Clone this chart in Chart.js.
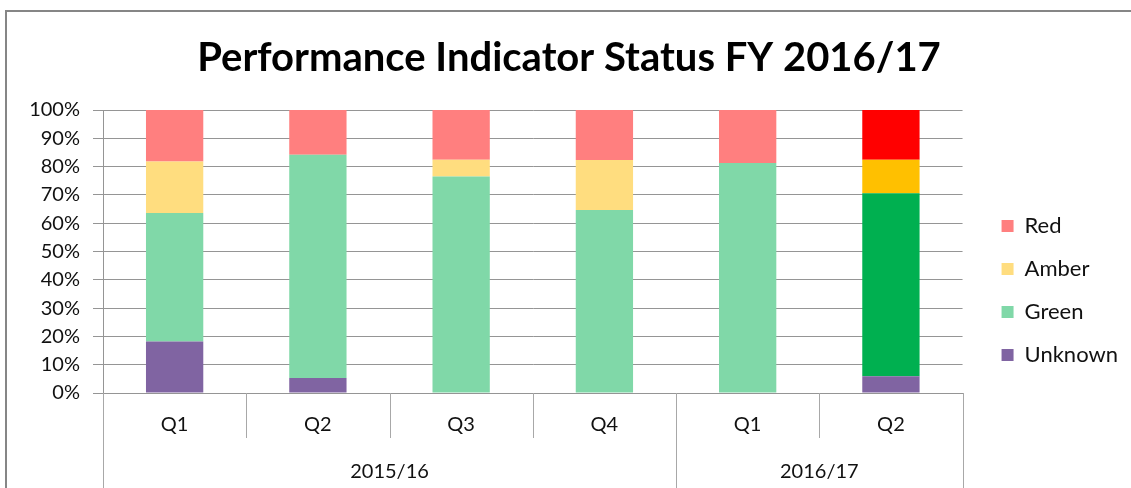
<!DOCTYPE html>
<html>
<head>
<meta charset="utf-8">
<script src="https://cdn.jsdelivr.net/npm/chart.js@4.4.0/dist/chart.umd.min.js"></script>
<style>
  html, body { margin: 0; padding: 0; background: #fff; }
  #wrap { width: 1131px; height: 488px; position: relative; }
</style>
</head>
<body>
<div id="wrap"><canvas id="chart" width="1131" height="488"></canvas></div>
<script>
// quarters on the axis, and the financial years they are grouped under
const quarters = ["Q1", "Q2", "Q3", "Q4", "Q1", "Q2"];
const years = ["2015/16", "2016/17"];
const quartersPerYear = [4, 2];

// share of indicators in each status (%)
const unknown = [18.2, 5.3, 0, 0, 0, 5.9];
const green = [45.4, 78.9, 76.5, 64.7, 81.3, 64.7];
const amber = [18.2, 0, 5.9, 17.6, 0, 11.8];
const red = [18.2, 15.8, 17.6, 17.7, 18.7, 17.6];

const yTicks = [0, 10, 20, 30, 40, 50, 60, 70, 80, 90, 100];

// the latest quarter uses the strong colours, older ones the faded ones
const faded = { red: "#FF7F7F", amber: "#FFDD7F", green: "#80D8A8", unknown: "#8064A2" };
const strong = { red: "#FF0000", amber: "#FFC000", green: "#00B050", unknown: "#8064A2" };
const colorsFor = (key) => quarters.map((q, i) => (i === quarters.length - 1 ? strong[key] : faded[key]));

const FONT = "Lato";
const TEXT = "#111111";
const LINE = "#959595";

// frame, quarter separators and year labels under the axis
const axisGroups = {
  id: "axisGroups",
  beforeDraw(chart) {
    const ctx = chart.ctx;
    ctx.save();
    ctx.strokeStyle = "#868686";
    ctx.lineWidth = 2;
    ctx.beginPath();
    ctx.moveTo(6, 488);
    ctx.lineTo(6, 11);
    ctx.lineTo(1131, 11);
    ctx.stroke();
    ctx.restore();
  },
  afterDraw(chart) {
    const ctx = chart.ctx;
    const x = chart.scales.x;
    const area = chart.chartArea;
    const w = (x.right - x.left) / quarters.length;
    const yearEdges = [0];
    quartersPerYear.forEach((n) => yearEdges.push(yearEdges[yearEdges.length - 1] + n));

    ctx.save();
    ctx.strokeStyle = "#a8a8a8";
    ctx.lineWidth = 1;
    for (let k = 0; k <= quarters.length; k++) {
      const px = Math.round(x.left + k * w) + 0.5;
      const long = yearEdges.includes(k);
      ctx.beginPath();
      ctx.moveTo(px, area.bottom);
      ctx.lineTo(px, long ? chart.height : area.bottom + 45);
      ctx.stroke();
    }
    ctx.fillStyle = TEXT;
    ctx.font = "20px " + FONT;
    ctx.textAlign = "center";
    ctx.textBaseline = "middle";
    years.forEach((label, i) => {
      const mid = (yearEdges[i] + yearEdges[i + 1]) / 2;
      ctx.fillText(label, x.left + mid * w, area.bottom + 79);
    });
    ctx.restore();
  },
};

const ctx = document.getElementById("chart").getContext("2d");
new Chart(ctx, {
  type: "bar",
  data: {
    labels: quarters,
    datasets: [
      { label: "Unknown", data: unknown, backgroundColor: colorsFor("unknown") },
      { label: "Green", data: green, backgroundColor: colorsFor("green") },
      { label: "Amber", data: amber, backgroundColor: colorsFor("amber") },
      { label: "Red", data: red, backgroundColor: colorsFor("red") },
    ],
  },
  options: {
    responsive: false,
    animation: false,
    layout: { padding: { top: 11, left: 10, right: 3, bottom: 0 } },
    datasets: { bar: { barPercentage: 0.4, categoryPercentage: 1 } },
    scales: {
      x: {
        stacked: true,
        grid: { display: false },
        border: { color: LINE },
        ticks: { color: TEXT, font: { family: FONT, size: 20 }, padding: 12 },
        afterFit: (scale) => {
          scale.height = 95;
        },
      },
      y: {
        stacked: true,
        min: 0,
        max: 100,
        afterBuildTicks: (scale) => {
          scale.ticks = yTicks.map((v) => ({ value: v }));
        },
        grid: { color: LINE, tickLength: 10 },
        border: { color: LINE },
        ticks: {
          color: TEXT,
          font: { family: FONT, size: 20 },
          padding: 13,
          callback: (v) => v + "%",
        },
        afterFit: (scale) => {
          scale.width = 93;
        },
      },
      // empty axis, only keeps a gap between the plot and the legend
      gap: {
        position: "right",
        grid: { display: false },
        border: { display: false },
        ticks: { display: false },
        afterFit: (scale) => {
          scale.width = 18;
        },
      },
    },
    plugins: {
      title: {
        display: true,
        text: "Performance Indicator Status FY 2016/17",
        color: "#000",
        font: { family: FONT, size: 40, weight: "bold" },
        padding: { top: 23, bottom: 28 },
      },
      legend: {
        position: "right",
        reverse: true,
        title: { display: true, text: "", font: { size: 10 }, padding: { top: 70, bottom: 0 } },
        labels: {
          color: TEXT,
          font: { family: FONT, size: 22 },
          boxWidth: 12,
          boxHeight: 12,
          padding: 21,
        },
      },
      tooltip: { enabled: false },
    },
  },
  plugins: [axisGroups],
});
</script>
</body>
</html>
